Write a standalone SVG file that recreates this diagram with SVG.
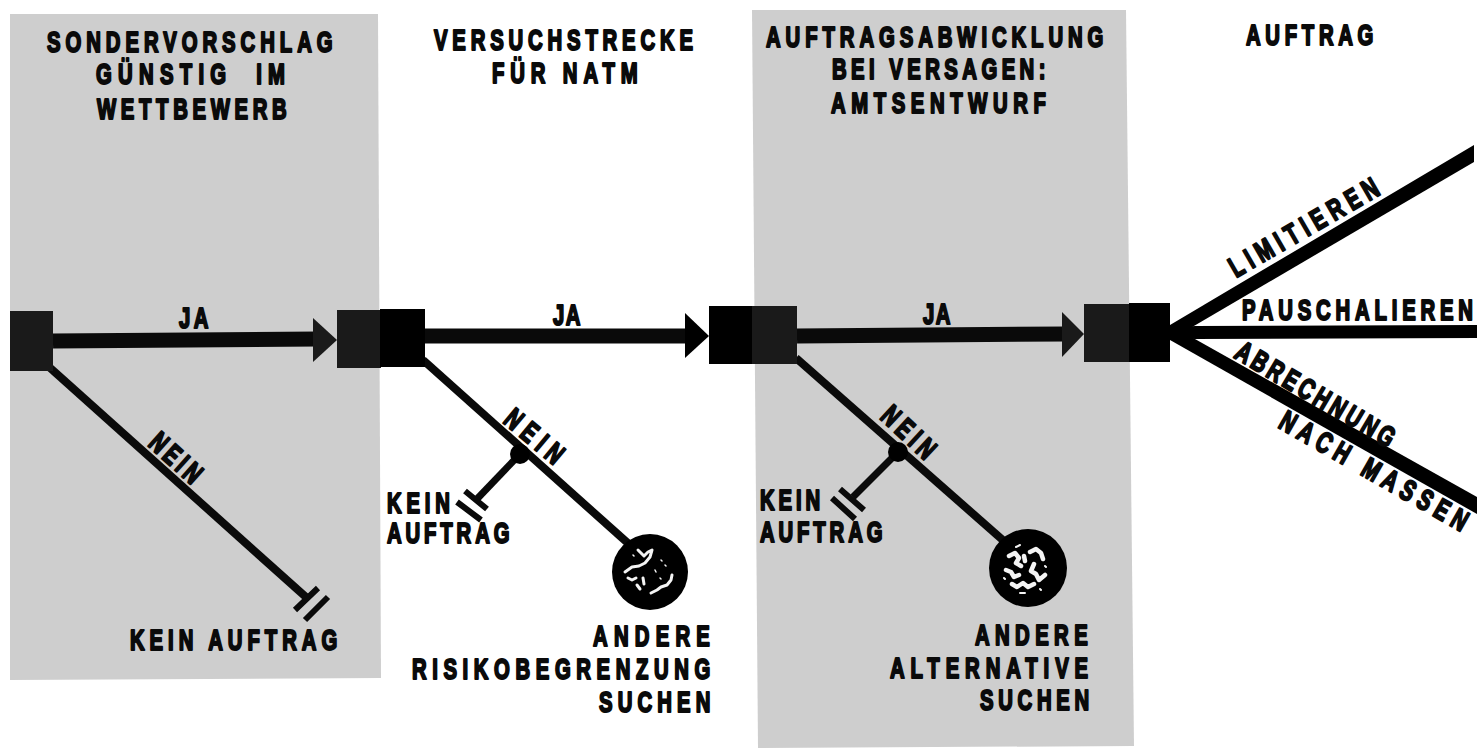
<svg xmlns="http://www.w3.org/2000/svg" width="1477" height="751" viewBox="0 0 1477 751">
<style>
text{font-family:"Liberation Sans",Arial,sans-serif;font-weight:700;font-size:29px;fill:#0a0a0a;stroke:#0a0a0a;stroke-width:2.1px;stroke-linejoin:round}
.panel{fill:#cecece}
.k{fill:#000}
.d{fill:#1a1a1a}
.t{stroke:#0a0a0a;fill:none;stroke-linecap:butt}
.sp{fill:none;stroke:#f4f4f4;stroke-linecap:round;stroke-linejoin:round}
</style>
<rect width="1477" height="751" fill="#fff"/>
<polygon id="panel1" class="panel" points="10,14 378,14 381,678 10,680"/>
<polygon id="panel2" class="panel" points="752,10 1126,10 1134,746 758,748"/>

<g id="connectors">
<path class="t" stroke-width="15" d="M53 341L318 339"/>
<path class="d" d="M313 318L337 340L313 362Z"/>
<path class="t" stroke-width="15" d="M425 336L690 336"/>
<path class="k" d="M685 313L709 336L685 358Z"/>
<path class="t" stroke-width="15" d="M797 336L1066 334"/>
<path class="d" d="M1062 312L1084 334L1062 357Z"/>
<path class="t" stroke-width="8" d="M48 366L307 598"/>
<path class="t" stroke-width="6" d="M295 610L318 588M305 620L328 597"/>
<path class="t" stroke-width="8" d="M423 360L630 545"/>
<path class="t" stroke-width="7" d="M520 454L476 500"/>
<path class="t" stroke-width="6" d="M465 491L487 509M457 502L481 520"/>
<path class="t" stroke-width="8" d="M796 358L1005 542"/>
<path class="t" stroke-width="7" d="M898 452L853 497"/>
<path class="t" stroke-width="6" d="M840 489L864 510M832 498L855 519"/>
<path class="k" d="M1170 325L1474 145L1474 162L1170 340Z"/>
<path class="k" d="M1170 328L1195 326L1477 325L1477 338L1195 339L1170 337Z"/>
<path class="k" d="M1170 325L1477 497L1477 514L1170 340Z"/>
</g>

<g id="node-start"><rect class="d" x="10" y="311" width="43" height="60"/></g>
<g id="node-versuch"><rect class="d" x="337" y="310" width="44" height="58"/><rect class="k" x="380" y="309" width="45" height="58"/></g>
<g id="node-abwicklung"><rect class="k" x="709" y="306" width="44" height="58"/><rect class="d" x="752" y="306" width="45" height="58"/></g>
<g id="node-auftrag"><rect class="d" x="1084" y="304" width="46" height="58"/><rect class="k" x="1129" y="303" width="41" height="59"/></g>
<g id="node-dot1"><circle class="k" cx="520" cy="454" r="10"/></g>
<g id="node-dot2"><circle class="k" cx="898" cy="452" r="10"/></g>
<g id="node-circle1"><circle class="k" cx="650" cy="572" r="38"/>
<path class="sp" stroke-width="3" d="M638 550l6 6 4 -4 4 -2 -2 7 -5 6 -6 3 -7 1 -7 5M628 578l4 2 4 -2M637 585l3 4M643 578l1 6M651 593l6 -3 4 -3 6 -2 4 -5 1 -5"/>
<path class="sp" stroke-width="1.5" d="M661 560l1 1M665 565l1 1M655 570l1 2M633 555l1 1M660 578l1 1"/></g>
<g id="node-circle2"><circle class="k" cx="1028" cy="568" r="39"/>
<path class="sp" stroke-width="4.5" d="M1009 556l6 -3 4 5 -3 5 5 3M1006 570l5 2 3 5 5 -2M1012 584l5 3 6 -4 5 4 6 -3M1030 552l6 -3 5 4 2 6M1034 564l-3 7 5 3 3 6 6 -5M1024 556l1 5"/>
<path class="sp" stroke-width="2" d="M1004 578l1 1M1020 593l5 0M1045 566l1 1M1016 547l4 -2M1040 589l1 1"/></g>

<g id="labels">
<text transform="translate(47 52) scale(.7 1)" textLength="408">SONDERVORSCHLAG</text>
<text transform="translate(96 84) scale(.7 1)" textLength="270" xml:space="preserve">GÜNSTIG  IM</text>
<text transform="translate(97 119) scale(.7 1)" textLength="271">WETTBEWERB</text>
<text transform="translate(434 50) scale(.7 1)" textLength="370">VERSUCHSTRECKE</text>
<text transform="translate(492 83) scale(.7 1)" textLength="208">FÜR NATM</text>
<text transform="translate(766 47) scale(.7 1)" textLength="482">AUFTRAGSABWICKLUNG</text>
<text transform="translate(832 79) scale(.7 1)" textLength="305">BEI VERSAGEN:</text>
<text transform="translate(831 113) scale(.7 1)" textLength="307">AMTSENTWURF</text>
<text transform="translate(1246 45) scale(.7 1)" textLength="182">AUFTRAG</text>
<text transform="translate(179 328) scale(.7 1)" textLength="42">JA</text>
<text transform="translate(553 325) scale(.7 1)" textLength="39">JA</text>
<text transform="translate(923 324) scale(.7 1)" textLength="39">JA</text>
<text transform="translate(130 650) scale(.7 1)" textLength="296">KEIN AUFTRAG</text>
<text transform="translate(387 513) scale(.7 1)" textLength="90">KEIN</text>
<text transform="translate(387 543) scale(.7 1)" textLength="175">AUFTRAG</text>
<text transform="translate(593 646) scale(.7 1)" textLength="167">ANDERE</text>
<text transform="translate(412 679) scale(.7 1)" textLength="426">RISIKOBEGRENZUNG</text>
<text transform="translate(599 712) scale(.7 1)" textLength="159">SUCHEN</text>
<text transform="translate(760 510) scale(.7 1)" textLength="86">KEIN</text>
<text transform="translate(760 542) scale(.7 1)" textLength="175">AUFTRAG</text>
<text transform="translate(975 645) scale(.7 1)" textLength="161">ANDERE</text>
<text transform="translate(890 678) scale(.7 1)" textLength="283">ALTERNATIVE</text>
<text transform="translate(980 710) scale(.7 1)" textLength="156">SUCHEN</text>
<text transform="translate(1242 320) scale(.7 1)" textLength="330">PAUSCHALIEREN</text>
<text transform="translate(1236 278) rotate(-30) scale(.7 1)" textLength="240">LIMITIEREN</text>
<text transform="translate(1233 357) rotate(30.6) scale(.7 1)" textLength="257">ABRECHNUNG</text>
<text transform="translate(1277 427) rotate(29.7) scale(.7 1)" textLength="303">NACH MASSEN</text>
<text transform="translate(147 445) rotate(42) scale(.7 1)" textLength="86">NEIN</text>
<text transform="translate(502 422) rotate(40) scale(.7 1)" textLength="97">NEIN</text>
<text transform="translate(879 418) rotate(43) scale(.7 1)" textLength="90">NEIN</text>
</g>
</svg>
